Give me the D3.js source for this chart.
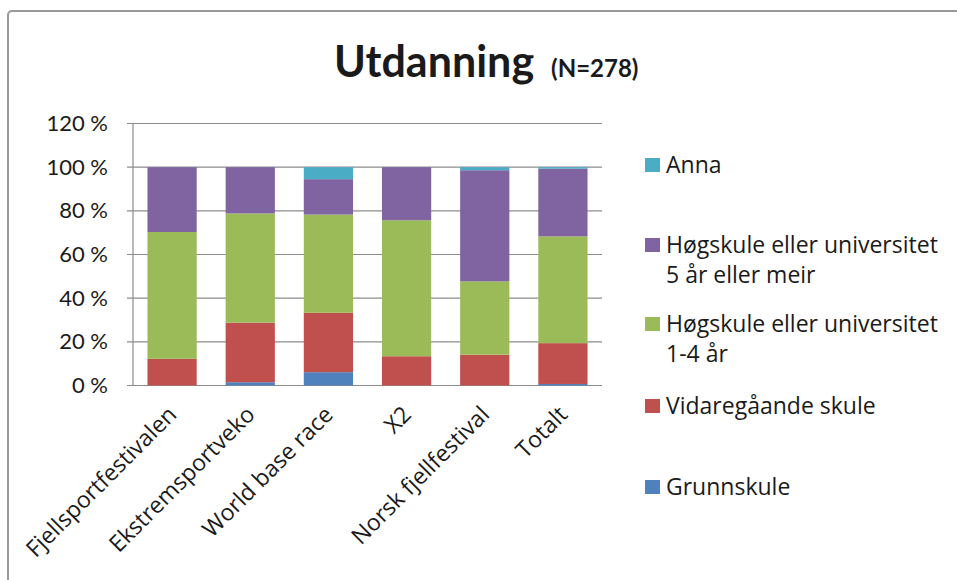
<!DOCTYPE html>
<html>
<head>
<meta charset="utf-8">
<script src="https://cdn.jsdelivr.net/npm/d3@7"></script>
<style>
  body { margin: 0; background: #fff; }
  text { font-family: Lato, "Open Sans", sans-serif; fill: #1a1a1a; }
</style>
</head>
<body>
<svg id="chart"></svg>
<script>
// Categories (x axis)
const categories = ['Fjellsportfestivalen', 'Ekstremsportveko', 'World base race', 'X2', 'Norsk fjellfestival', 'Totalt'];

// Series, bottom to top of each stack
const seriesNames = ['Grunnskule', 'Vidaregåande skule', 'Høgskule eller universitet 1-4 år', 'Høgskule eller universitet 5 år eller meir', 'Anna'];
const grunnskule   = [0,    1.5,  6.1,  0,    0,    0.7];
const vidaregaande = [12.2, 27.3, 27.2, 13.4, 14.1, 18.7];
const hogskule14   = [58.1, 50.0, 45.0, 62.3, 33.6, 48.9];
const hogskule5    = [29.7, 21.2, 16.2, 24.3, 50.9, 31.0];
const anna         = [0,    0,    5.5,  0,    1.4,  0.7];

// Legend text, one array of lines per series (legend order: top to bottom)
const legendLines = [
  ['Anna'],
  ['Høgskule eller universitet', '5 år eller meir'],
  ['Høgskule eller universitet', '1-4 år'],
  ['Vidaregåande skule'],
  ['Grunnskule']
];

// Y tick values
const yTicks = [0, 20, 40, 60, 80, 100, 120];

const colors = ['#4F81BD', '#C0504D', '#9BBB59', '#8064A2', '#4BACC6'];

const W = 957, H = 580;
const plot = { left: 133, right: 602, top: 123.5, bottom: 385.5 };

const svg = d3.select('#chart').attr('width', W).attr('height', H);

// Outer chart border
svg.append('rect')
  .attr('x', 8).attr('y', 11)
  .attr('width', W + 20).attr('height', H + 20)
  .attr('rx', 4)
  .attr('fill', 'none')
  .attr('stroke', '#999')
  .attr('stroke-width', 2);

// Title
const title = svg.append('text')
  .attr('x', 334).attr('y', 77);
title.append('tspan').attr('font-size', 43).attr('font-weight', 700).text('Utdanning');
title.append('tspan').attr('font-size', 24).attr('font-weight', 700).attr('dx', 17).text('(N=278)');

// Scales
const x = d3.scaleBand()
  .domain(categories)
  .range([plot.left, plot.right])
  .paddingInner(0.37)
  .paddingOuter(0.185);

const y = d3.scaleLinear()
  .domain([0, 120])
  .range([plot.bottom, plot.top]);

// Gridlines
svg.append('g')
  .selectAll('line')
  .data(yTicks)
  .join('line')
  .attr('x1', plot.left - 6).attr('x2', plot.right)
  .attr('y1', d => y(d)).attr('y2', d => y(d))
  .attr('stroke', '#8c8c8c')
  .attr('stroke-width', 1.2);

// Y axis labels
const yAxis = d3.axisLeft(y)
  .tickValues(yTicks)
  .tickSize(0)
  .tickPadding(25)
  .tickFormat(d => d + ' %');

svg.append('g')
  .attr('transform', `translate(${plot.left},0)`)
  .call(yAxis)
  .call(g => g.select('.domain').remove())
  .selectAll('text')
  .attr('font-size', 22)
  .attr('fill', '#1a1a1a')
  .style('font-family', 'Lato, sans-serif');

// Stacked bars
const rows = categories.map((c, i) => ({
  cat: c,
  s0: grunnskule[i], s1: vidaregaande[i], s2: hogskule14[i], s3: hogskule5[i], s4: anna[i]
}));
const stack = d3.stack().keys(['s0', 's1', 's2', 's3', 's4']);
const layers = stack(rows);

svg.append('g')
  .selectAll('g')
  .data(layers)
  .join('g')
  .attr('fill', (d, i) => colors[i])
  .selectAll('rect')
  .data(d => d)
  .join('rect')
  .attr('x', d => x(d.data.cat))
  .attr('width', x.bandwidth())
  .attr('y', d => y(d[1]))
  .attr('height', d => y(d[0]) - y(d[1]));

// Y axis line
svg.append('line')
  .attr('x1', plot.left).attr('x2', plot.left)
  .attr('y1', plot.top).attr('y2', plot.bottom)
  .attr('stroke', '#8c8c8c')
  .attr('stroke-width', 1.2);

// X labels (rotated)
svg.append('g')
  .selectAll('text')
  .data(categories)
  .join('text')
  .attr('transform', d => `translate(${x(d) + x.bandwidth() / 2 + 6},416) rotate(-45)`)
  .attr('text-anchor', 'end')
  .attr('font-size', 23)
  .style('font-family', '"Open Sans", sans-serif')
  .text(d => d);

// Legend
const legendY = [165, 245, 324, 406, 487];
const legendColors = colors.slice().reverse();
const legend = svg.append('g');
legendLines.forEach((lines, i) => {
  const g = legend.append('g').attr('transform', `translate(645,${legendY[i]})`);
  g.append('rect')
    .attr('x', 0).attr('y', -7)
    .attr('width', 15).attr('height', 14)
    .attr('fill', legendColors[i]);
  g.selectAll('text')
    .data(lines)
    .join('text')
    .attr('x', 21)
    .attr('y', (d, j) => 8 + j * 30)
    .attr('font-size', 23)
    .style('font-family', '"Open Sans", sans-serif')
    .text(d => d);
});
</script>
</body>
</html>
